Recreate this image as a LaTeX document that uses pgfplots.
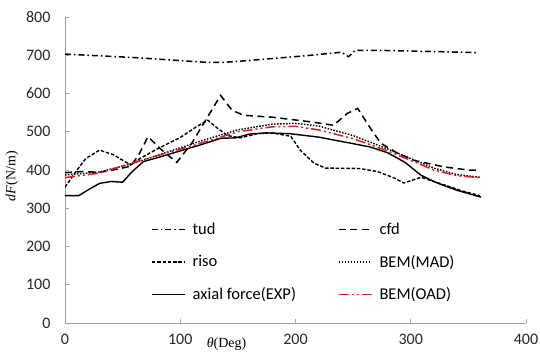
\documentclass[border=0pt]{standalone}
\usepackage{pgfplots}
\pgfplotsset{compat=1.18}
\usepackage{fontspec}
\setmainfont{Carlito}
\newfontfamily\serif{Liberation Serif}
\definecolor{axgray}{RGB}{160,160,160}
\definecolor{oadred}{RGB}{220,30,40}
\begin{document}
\begin{tikzpicture}
\path[use as bounding box] (-65pt,-38pt) rectangle (475pt,323pt);
\begin{axis}[
  scale only axis, width=461pt, height=306pt,
  xmin=0, xmax=400, ymin=0, ymax=800,
  axis lines=left, axis line style={axgray, line width=0.8pt, -},
  xtick={0,100,...,400}, ytick={0,100,...,800},
  tick align=inside, major tick length=4pt, tick style={axgray, line width=0.6pt},
  /pgf/number format/assume math mode=true,
  ticklabel style={font=\fontsize{16}{18}\selectfont, text=black!85},
  yticklabel style={xshift=-11pt},
  xticklabel style={yshift=-8pt},
  xlabel={\serif\itshape θ\upshape(Deg)},
  xlabel style={at={(axis description cs:0.30,0)}, anchor=north west, yshift=-11pt, font=\fontsize{14}{16}\selectfont},
  ylabel={\serif\itshape dF\upshape(N/m)},
  ylabel style={at={(axis description cs:-0.115,0.48)}, anchor=center, font=\fontsize{14}{16}\selectfont},
  legend columns=2,
  legend cell align=left,
  legend image code/.code={\draw[#1] (0pt,0pt) -- (33pt,0pt);},
  legend style={at={(axis description cs:0.18,0.34)}, anchor=north west, draw=none, fill=none,
    font=\fontsize{16.5}{18}\selectfont, row sep=15pt,
    /tikz/every odd column/.append style={column sep=5pt},
    /tikz/every even column/.append style={column sep=40pt}},
]
\addplot[black, line width=1.5pt, dash pattern=on 6pt off 3pt on 1.5pt off 3pt] coordinates {
(0,703)(20,700)(40,697)(60,694)(80,690)(100,686)(120,682)(135,681)(150,684)(170,689)(190,694)(210,699)(230,705)(240,708)(246,696)(252,713)(270,713)(300,711)(330,709)(358,707)};
\addlegendentry{tud}
\addplot[black, line width=1.5pt, dash pattern=on 7pt off 4.5pt] coordinates {
(0,393)(15,396)(30,394)(45,402)(57,410)(64,440)(72,487)(84,452)(97,420)(110,470)(122,530)(135,595)(145,556)(155,543)(180,538)(213,526)(233,517)(245,548)(254,561)(265,509)(274,470)(289,443)(303,425)(329,408)(350,400)(360,400)};
\addlegendentry{cfd}
\addplot[black, line width=1.4pt, dash pattern=on 3.5pt off 1.8pt] coordinates {
(0,355)(8,390)(18,430)(30,452)(42,440)(57,413)(65,430)(80,455)(100,485)(115,515)(124,530)(132,510)(141,490)(152,484)(167,495)(180,497)(196,488)(204,452)(216,418)(226,405)(255,404)(271,396)(285,380)(294,366)(309,381)(325,365)(345,345)(360,333)};
\addlegendentry{riso}
\addplot[black, line width=1.4pt, dash pattern=on 1.5pt off 1.5pt] coordinates {
(0,387)(30,395)(60,418)(90,448)(120,478)(150,505)(180,520)(200,522)(220,515)(250,490)(280,455)(300,430)(320,405)(340,388)(360,381)};
\addlegendentry{BEM(MAD)}
\addplot[black, line width=1.4pt] coordinates {
(0,333)(12,333)(20,348)(30,365)(40,370)(50,368)(58,395)(68,422)(80,432)(100,450)(120,468)(135,483)(148,484)(160,494)(175,497)(195,495)(220,486)(248,470)(265,460)(280,445)(295,420)(309,386)(323,366)(340,347)(361,329)};
\addlegendentry{axial force(EXP)}
\addplot[oadred, line width=1.5pt, dash pattern=on 10pt off 3pt on 2pt off 3pt on 2pt off 3pt] coordinates {
(0,380)(30,392)(60,420)(90,446)(120,472)(150,500)(180,513)(200,514)(220,505)(250,482)(280,450)(300,425)(320,400)(340,385)(360,380)};
\addlegendentry{BEM(OAD)}
\end{axis}
\end{tikzpicture}
\end{document}
